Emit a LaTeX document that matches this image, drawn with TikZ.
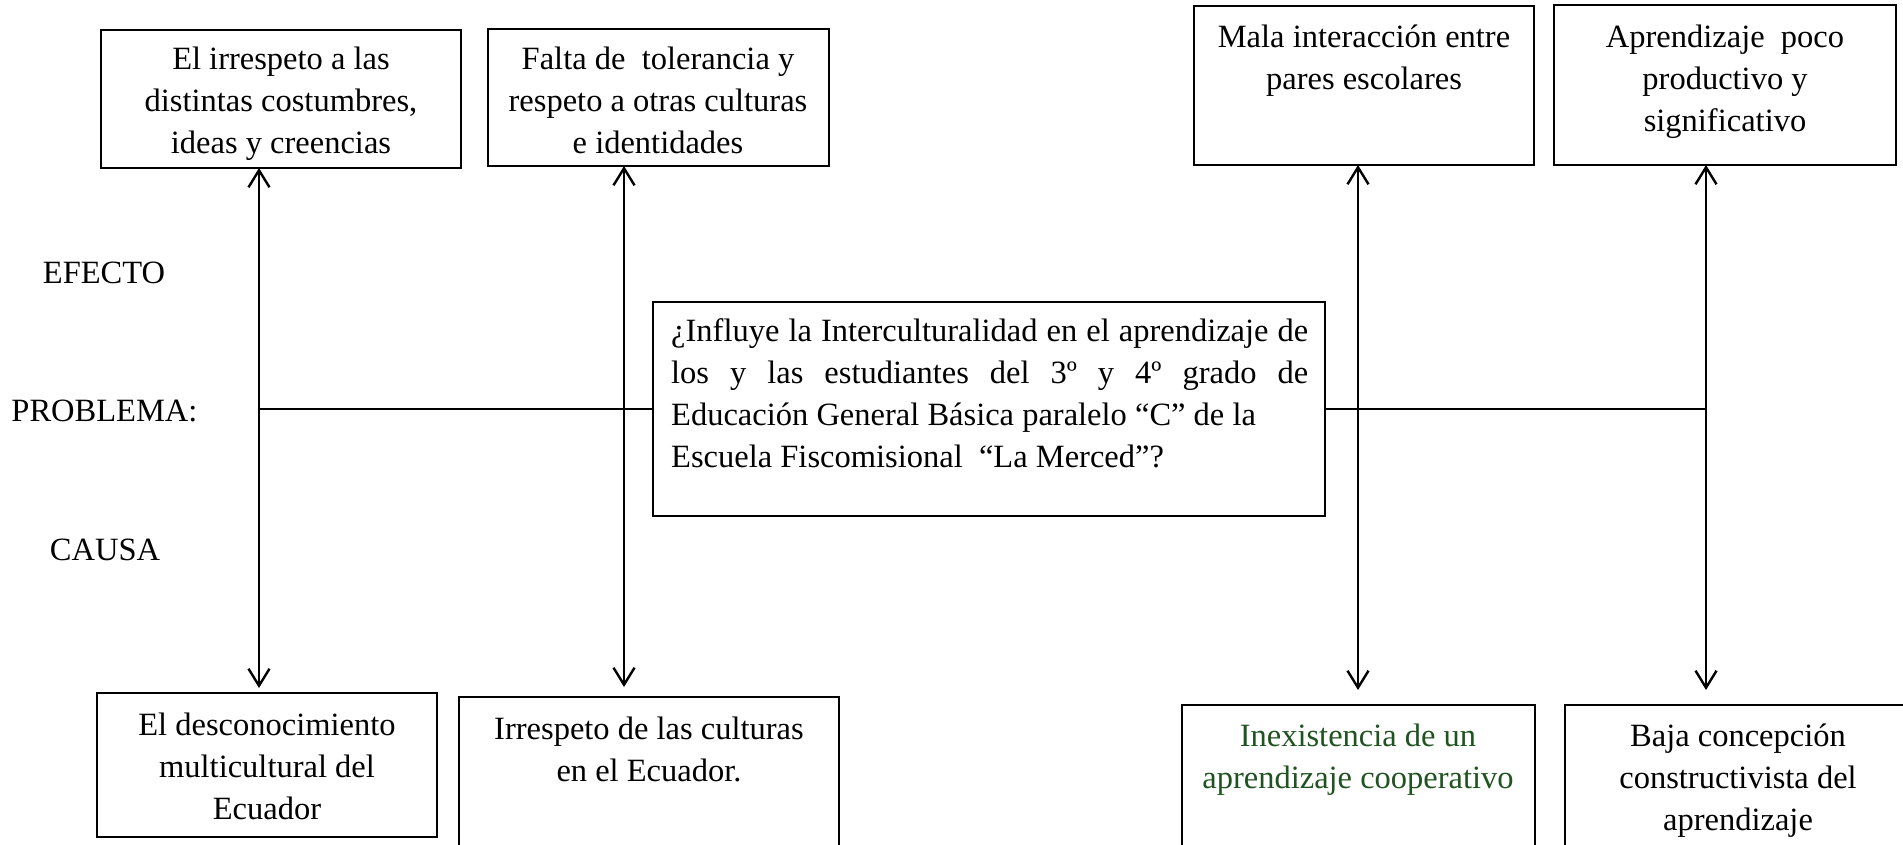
\documentclass[tikz,border=0pt]{standalone}
\usepackage{fontspec}
\setmainfont{Liberation Serif}
\usetikzlibrary{arrows.meta}
\definecolor{dgreen}{HTML}{1F531F}
\tikzset{
  box/.style={draw, line width=2.6pt, inner sep=0pt, outer sep=0pt, anchor=north west},
  txt/.style={font=\fontsize{32.5}{42}\selectfont, align=center, inner sep=0pt, anchor=north},
  lbl/.style={font=\fontsize{32.5}{42}\selectfont, inner sep=0pt, anchor=base},
  conn/.style={line width=2.5pt},
  dbl/.style={conn, {Straight Barb[length=17pt,width=21pt,line width=2.4pt]}-{Straight Barb[length=17pt,width=21pt,line width=2.4pt]}}
}
\begin{document}
\begin{tikzpicture}[x=1pt,y=-1pt]
\useasboundingbox (0,0) rectangle (1903,845);
% top (effect) boxes
\node[box, minimum width=360pt, minimum height=138pt] (b1) at (101,30) {};
\node[box, minimum width=341pt, minimum height=137pt] (b2) at (488,29) {};
\node[box, minimum width=340pt, minimum height=159pt] (b3) at (1194,6) {};
\node[box, minimum width=342pt, minimum height=160pt] (b4) at (1554,5) {};
\node[txt] (t1) at (281,39.6) {\strut El irrespeto a las\\distintas costumbres,\\ideas y creencias};
\node[txt] (t2) at (658,39.6) {\strut Falta de\ \ tolerancia y\\respeto a otras culturas\\e identidades};
\node[txt] (t3) at (1364,17.6) {\strut Mala interacción entre\\pares escolares};
\node[txt] (t4) at (1725,17.6) {\strut Aprendizaje\ \ poco\\productivo y\\significativo};
% bottom (cause) boxes
\node[box, minimum width=340pt, minimum height=144pt] (c1) at (97,693) {};
\node[box, minimum width=380pt, minimum height=155pt] (c2) at (459,697) {};
\node[box, minimum width=353pt, minimum height=147pt] (c3) at (1182,705) {};
\node[box, minimum width=346pt, minimum height=147pt] (c4) at (1565,705) {};
\node[txt] (u1) at (267,705.6) {\strut El desconocimiento\\multicultural del\\Ecuador};
\node[txt] (u2) at (649,709.6) {\strut Irrespeto de las culturas\\en el Ecuador.};
\node[txt, text=dgreen] (u3) at (1358,716.6) {\strut Inexistencia de un\\aprendizaje cooperativo};
\node[txt] (u4) at (1738,716.6) {\strut Baja concepción\\constructivista del\\aprendizaje};
% problem box
\node[box, minimum width=672pt, minimum height=214pt] (P) at (653,302) {};
\node[txt, anchor=north west, align=left] (pt) at (671,311.6) {\parbox{637pt}{%
\makebox[637pt][s]{\strut ¿Influye la Interculturalidad en el aprendizaje de}\\
\makebox[637pt][s]{los y las estudiantes del 3º y 4º grado de}\\
\makebox[637pt][l]{Educación General Básica paralelo “C” de la}\\
\makebox[637pt][l]{Escuela Fiscomisional\ \ “La Merced”?}}};
% side labels
\node[lbl] (l1) at (104,283) {EFECTO};
\node[lbl] (l2) at (104.5,421) {PROBLEMA:};
\node[lbl] (l3) at (105,560) {CAUSA};
% arrow ends
\coordinate (e1) at (259,688);
\coordinate (e2) at (624,687);
\coordinate (e3) at (1358,690);
\coordinate (e4) at (1706,690);
\draw[dbl] (e1 |- b1.south) -- (e1);
\draw[dbl] (e2 |- b2.south) -- (e2);
\draw[dbl] (e3 |- b3.south) -- (e3);
\draw[dbl] (e4 |- b4.south) -- (e4);
% horizontal problem line
\draw[conn] (e1 |- P.west) -- (P.west);
\draw[conn] (P.east) -- (e4 |- P.east);
\end{tikzpicture}
\end{document}
